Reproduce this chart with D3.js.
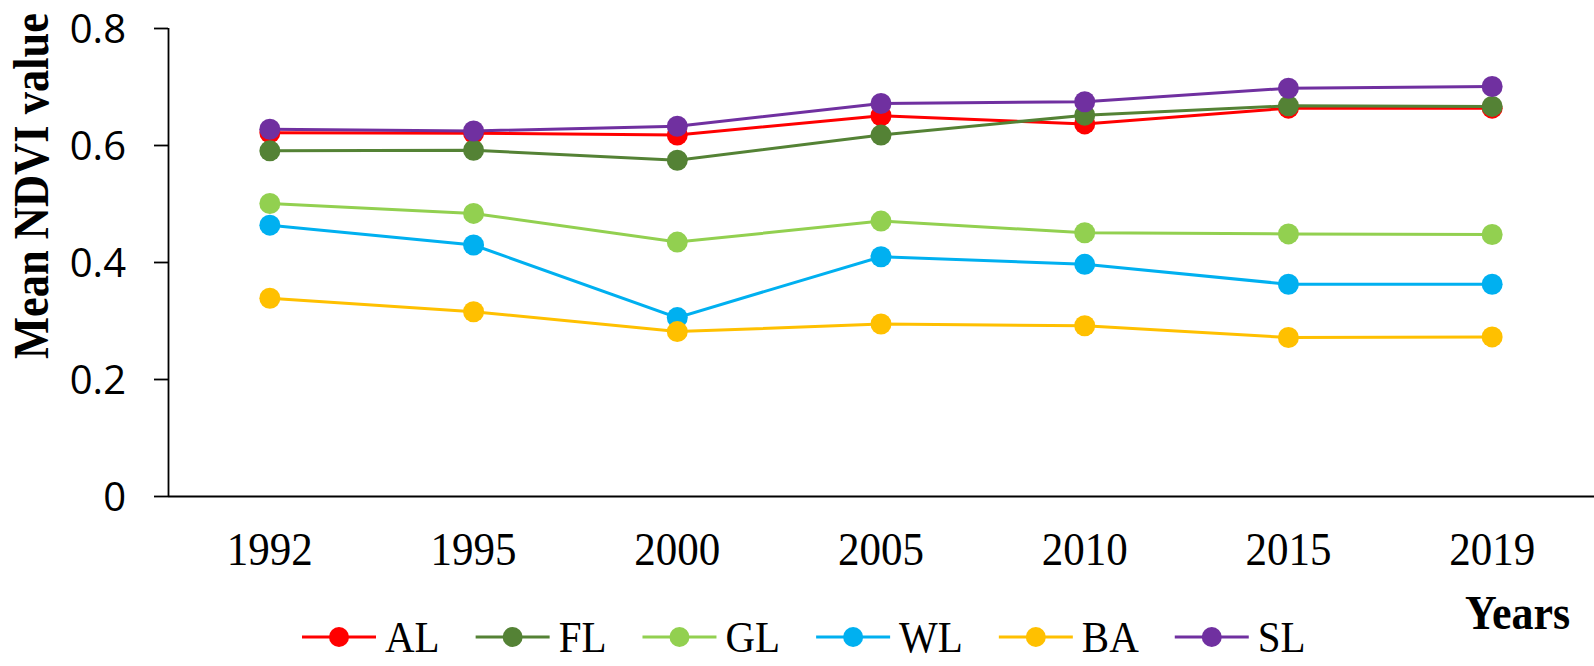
<!DOCTYPE html>
<html>
<head>
<meta charset="utf-8">
<script src="https://cdn.jsdelivr.net/npm/d3@7"></script>
<style>
  html, body { margin: 0; padding: 0; background: #fff; }
  svg { display: block; }
</style>
</head>
<body>
<svg id="chart" width="1594" height="666"></svg>
<script>
const years = ["1992", "1995", "2000", "2005", "2010", "2015", "2019"];
const seriesNames = ["AL", "FL", "GL", "WL", "BA", "SL"];
const AL = [0.621, 0.620, 0.617, 0.650, 0.636, 0.663, 0.663];
const FL = [0.590, 0.591, 0.574, 0.617, 0.651, 0.667, 0.666];
const GL = [0.500, 0.483, 0.434, 0.470, 0.450, 0.448, 0.447];
const WL = [0.463, 0.429, 0.305, 0.409, 0.396, 0.362, 0.362];
const BA = [0.338, 0.315, 0.281, 0.294, 0.291, 0.271, 0.272];
const SL = [0.627, 0.624, 0.632, 0.671, 0.674, 0.697, 0.700];
const yTicks = [0, 0.2, 0.4, 0.6, 0.8];
const colors = ["#FF0000", "#548235", "#92D050", "#00B0F0", "#FFC000", "#7030A0"];

(function () {
const seriesValues = [AL, FL, GL, WL, BA, SL];
const series = seriesNames.map((n, i) => ({ name: n, values: seriesValues[i], color: colors[i] }));

const svg = d3.select("#chart");
const W = 1594;
const pLeft = 168, pTop = 28, pBottom = 496, pRight = W;

const x = d3.scaleBand().domain(years).range([pLeft, pRight]).padding(0);
const cx = d => x(d) + x.bandwidth() / 2;
const y = d3.scaleLinear().domain([0, 0.8]).range([pBottom, pTop]);

const serif = "'Liberation Serif', 'Times New Roman', serif";
const sans = "'Open Sans', 'Noto Sans', sans-serif";

// Y axis
const yAxis = svg.append("g")
  .attr("transform", `translate(${pLeft},0)`)
  .call(d3.axisLeft(y).tickValues(yTicks).tickSize(14).tickPadding(28)
    .tickFormat(d => d === 0 ? "0" : d.toFixed(1)));
yAxis.select(".domain").attr("stroke", "#000").attr("stroke-width", 1.8)
  .attr("d", `M0.5,${y(0.8)}V${pBottom}`);
yAxis.selectAll(".tick line").attr("stroke", "#000").attr("stroke-width", 1.8);
yAxis.selectAll(".tick text").attr("font-family", sans).attr("font-size", 40)
  .attr("fill", "#000").attr("dy", "0.36em");

// X axis
const xAxis = svg.append("g")
  .attr("transform", `translate(0,${pBottom})`)
  .call(d3.axisBottom(x).tickSize(0).tickPadding(0));
xAxis.select(".domain").attr("stroke", "#000").attr("stroke-width", 1.8)
  .attr("d", `M${pLeft},0.5H${pRight}`);
xAxis.selectAll(".tick text")
  .attr("y", null).attr("dy", null)
  .attr("transform", `translate(0,${565 - pBottom}) scale(1,1.1)`)
  .attr("font-family", serif).attr("font-size", 43).attr("fill", "#000");

// Lines and markers
const line = d3.line().x((d, i) => cx(years[i])).y(d => y(d));
const g = svg.append("g");
series.forEach(s => {
  g.append("path").datum(s.values)
    .attr("d", line).attr("fill", "none")
    .attr("stroke", s.color).attr("stroke-width", 3);
  g.selectAll(null).data(s.values).enter().append("circle")
    .attr("cx", (d, i) => cx(years[i])).attr("cy", d => y(d))
    .attr("r", 10.5).attr("fill", s.color);
});

// Y title
svg.append("text")
  .attr("transform", `translate(48,186) rotate(-90) scale(1,1.15)`)
  .attr("text-anchor", "middle")
  .attr("font-family", serif).attr("font-weight", "bold").attr("font-size", 44.5)
  .attr("fill", "#000")
  .text("Mean NDVI value");

// X title
svg.append("text")
  .attr("transform", `translate(1465,629) scale(1,1.1)`)
  .attr("font-family", serif).attr("font-weight", "bold").attr("font-size", 44)
  .attr("fill", "#000")
  .text("Years");

// Legend
const legY = 637;
let lx = 302;
series.forEach(s => {
  const lg = svg.append("g");
  lg.append("line").attr("x1", lx).attr("x2", lx + 74).attr("y1", legY).attr("y2", legY)
    .attr("stroke", s.color).attr("stroke-width", 3);
  lg.append("circle").attr("cx", lx + 37).attr("cy", legY).attr("r", 10).attr("fill", s.color);
  const t = lg.append("text")
    .attr("transform", `translate(${lx + 83},652) scale(1,1.1)`)
    .attr("font-family", serif).attr("font-size", 41).attr("fill", "#000")
    .text(s.name);
  lx = lx + 83 + t.node().getComputedTextLength() + 36;
});
})();
</script>
</body>
</html>
